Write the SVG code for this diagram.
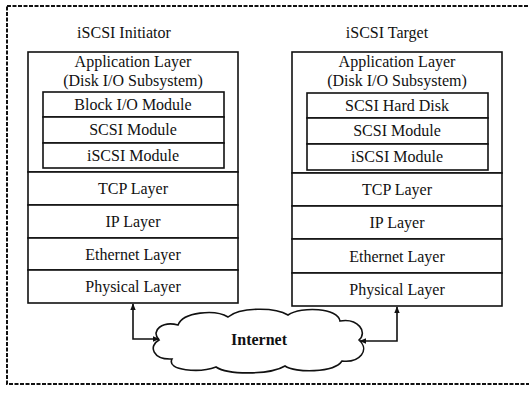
<svg xmlns="http://www.w3.org/2000/svg" width="529" height="397" viewBox="0 0 529 397">
<style>
.t{font-family:"Liberation Serif","Times New Roman",serif;font-size:16px;fill:#111;text-anchor:middle}
.b{font-weight:bold}
.box{fill:#fff;stroke:#111;stroke-width:1.6}
.conn{fill:none;stroke:#111;stroke-width:1.6}
</style>
<defs>
<marker id="ah" viewBox="0 0 10 10" refX="9" refY="5" markerWidth="7" markerHeight="7" markerUnits="userSpaceOnUse" orient="auto-start-reverse">
<path d="M0,1 L10,5 L0,9 Z" fill="#111"/>
</marker>
</defs>
<rect x="7" y="6" width="540" height="378" fill="#fff" stroke="#111" stroke-width="2" stroke-dasharray="4 1.5"/>

<g id="initiator">
<text class="t" x="124" y="38">iSCSI Initiator</text>
<rect class="box" x="28" y="52" width="210" height="120"/>
<text class="t" x="133" y="67">Application Layer</text>
<text class="t" x="133" y="86">(Disk I/O Subsystem)</text>
<rect class="box" x="43" y="92" width="181" height="25"/>
<text class="t" x="133" y="110">Block I/O Module</text>
<rect class="box" x="43" y="117" width="181" height="26"/>
<text class="t" x="133" y="135">SCSI Module</text>
<rect class="box" x="43" y="143" width="181" height="25"/>
<text class="t" x="133" y="161">iSCSI Module</text>
<rect class="box" x="28" y="172" width="210" height="33"/>
<text class="t" x="133" y="194">TCP Layer</text>
<rect class="box" x="28" y="205" width="210" height="33"/>
<text class="t" x="133" y="227">IP Layer</text>
<rect class="box" x="28" y="238" width="210" height="32"/>
<text class="t" x="133" y="260">Ethernet Layer</text>
<rect class="box" x="28" y="270" width="210" height="33"/>
<text class="t" x="133" y="292">Physical Layer</text>
</g>

<g id="target">
<text class="t" x="387" y="38">iSCSI Target</text>
<rect class="box" x="292" y="52" width="210" height="121"/>
<text class="t" x="397" y="67">Application Layer</text>
<text class="t" x="397" y="86">(Disk I/O Subsystem)</text>
<rect class="box" x="307" y="93" width="181" height="25"/>
<text class="t" x="397" y="111">SCSI Hard Disk</text>
<rect class="box" x="307" y="118" width="181" height="26"/>
<text class="t" x="397" y="136">SCSI Module</text>
<rect class="box" x="307" y="144" width="181" height="26"/>
<text class="t" x="397" y="162">iSCSI Module</text>
<rect class="box" x="292" y="173" width="210" height="33"/>
<text class="t" x="397" y="195">TCP Layer</text>
<rect class="box" x="292" y="206" width="210" height="33"/>
<text class="t" x="397" y="228">IP Layer</text>
<rect class="box" x="292" y="239" width="210" height="34"/>
<text class="t" x="397" y="262">Ethernet Layer</text>
<rect class="box" x="292" y="273" width="210" height="33"/>
<text class="t" x="397" y="295">Physical Layer</text>
</g>

<g id="internet">
<path class="box" d="M159,340 C150,330 163,321 178,325 C183,312 215,309 228,317 C240,307 275,307 288,315 C302,306 338,308 340,321 C358,318 368,332 359,340 C370,350 360,363 342,361 C334,373 295,373 285,366 C270,375 228,375 216,367 C200,373 166,371 172,359 C153,360 148,346 159,340 Z"/>
<text class="t b" x="259" y="345">Internet</text>
</g>

<g id="connectors">
<path class="conn" d="M159,339 H133 V304" marker-start="url(#ah)" marker-end="url(#ah)"/>
<path class="conn" d="M360,341 H397 V307" marker-start="url(#ah)" marker-end="url(#ah)"/>
</g>
</svg>
